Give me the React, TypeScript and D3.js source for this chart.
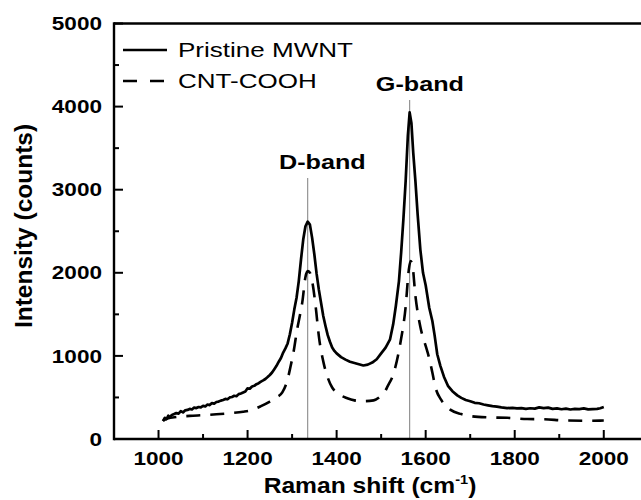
import React from "react";
import * as d3 from "d3";

// ---- data ----
const pristineShift = [
  1010, 1014, 1018, 1022, 1026, 1030, 1035, 1040, 1045, 1050, 1055, 1060, 1065, 1070, 1075, 1080, 1085, 1090, 1095, 1100,
  1105, 1110, 1115, 1120, 1125, 1130, 1135, 1140, 1145, 1150, 1155, 1160, 1165, 1170, 1175, 1180, 1185, 1190, 1195, 1200,
  1205, 1210, 1215, 1220, 1225, 1230, 1235, 1240, 1245, 1250, 1255, 1260, 1265, 1270, 1275, 1280, 1285, 1290, 1295, 1300,
  1305, 1310, 1315, 1320, 1325, 1330, 1335, 1340, 1345, 1350, 1355, 1360, 1365, 1370, 1375, 1380, 1385, 1390, 1395, 1400,
  1410, 1420, 1430, 1440, 1450, 1460, 1470, 1480, 1490, 1500, 1510, 1520, 1527, 1533, 1540, 1545, 1550, 1555, 1560, 1564,
  1568, 1572, 1577, 1582, 1588, 1594, 1600, 1608, 1615, 1620, 1626, 1633, 1641, 1650, 1660, 1671, 1680, 1690, 1700, 1710,
  1720, 1730, 1740, 1750, 1760, 1770, 1783, 1795, 1805, 1815, 1825, 1835, 1845, 1855, 1865, 1875, 1885, 1895, 1905, 1915,
  1925, 1935, 1945, 1955, 1965, 1975, 1985, 1992, 2000,
];
const pristineCounts = [
  215, 255, 240, 280, 262, 290, 300, 312, 305, 335, 320, 345, 350, 362, 355, 378, 372, 385, 380, 398,
  392, 415, 408, 432, 425, 445, 450, 462, 470, 482, 478, 500, 505, 520, 515, 540, 548, 560, 572, 610,
  605, 632, 640, 660, 672, 690, 705, 722, 745, 770, 800, 840, 880, 930, 975, 1040, 1090, 1150, 1260, 1400,
  1560, 1700, 1900, 2160, 2400, 2560, 2615, 2580, 2420, 2220, 1990, 1800, 1640, 1480, 1360, 1250, 1170, 1100, 1060, 1030,
  985, 955, 930, 915, 900, 885, 895, 920, 960, 1030, 1100, 1200, 1380, 1600, 1900, 2250, 2650, 3100, 3650, 3930,
  3800, 3450, 3100, 2700, 2280, 2000, 1850, 1580, 1420, 1250, 1020, 880, 750, 640, 575, 525, 495, 470, 455, 435,
  430, 415, 405, 395, 390, 380, 372, 375, 368, 372, 362, 370, 365, 380, 372, 378, 362, 368, 358, 366,
  355, 362, 360, 368, 356, 360, 362, 370, 385,
];

const cooShift = [
  1010, 1020, 1040, 1070, 1100, 1130, 1160, 1190, 1210, 1230, 1250, 1265, 1278, 1290, 1296, 1304, 1311, 1318, 1323, 1330,
  1335, 1340, 1345, 1353, 1360, 1371, 1380, 1390, 1400, 1424, 1440, 1461, 1483, 1500, 1506, 1515, 1528, 1543, 1555, 1562,
  1566, 1570, 1577, 1588, 1600, 1607, 1615, 1622, 1635, 1656, 1680, 1701, 1740, 1783, 1828, 1865, 1918, 1970, 2000,
];
const cooCounts = [
  220, 245, 265, 278, 287, 297, 310, 328, 350, 395, 450, 500, 560, 720, 860, 1070, 1310, 1500, 1650, 1950,
  2020, 2000, 1900, 1590, 1240, 910, 740, 620, 560, 490, 465, 455, 465, 520, 550, 640, 790, 1150, 1590, 2030,
  2140, 2100, 1720, 1350, 1120, 990, 800, 620, 470, 350, 300, 275, 260, 255, 240, 237, 222, 220, 222,
];

const xTicks = [1000, 1200, 1400, 1600, 1800, 2000];
const xMinor = [900, 1100, 1300, 1500, 1700, 1900, 2100];
const yTicks = [0, 1000, 2000, 3000, 4000, 5000];
const yMinor = [500, 1500, 2500, 3500, 4500];
const seriesNames = ["Pristine MWNT", "CNT-COOH"];
const bands = [
  { name: "D-band", pos: 1335, top: 3140, labelX: 1368, labelY: 3250 },
  { name: "G-band", pos: 1564, top: 4080, labelX: 1587, labelY: 4190 },
];

const W = 641;
const H = 500;
const FONT = "'Liberation Sans', Arial, Helvetica, sans-serif";

function T(props: any) {
  const { x, y, sx = 1, anchor = "start", size, weight = "bold", children, ...rest } = props;
  return (
    <text
      transform={`translate(${x},${y}) scale(${sx},1)`}
      textAnchor={anchor}
      fontSize={size}
      fontWeight={weight}
      fontFamily={FONT}
      fill="#000"
      {...rest}
    >
      {children}
    </text>
  );
}

export default function App() {
  const x = d3.scaleLinear().domain([900, 2100]).range([114, 648.3]);
  const y = d3.scaleLinear().domain([0, 5000]).range([439, 23.5]);

  const pristine = pristineShift.map((s, i) => [s, pristineCounts[i]] as [number, number]);
  const coo = cooShift.map((s, i) => [s, cooCounts[i]] as [number, number]);

  const lineLin = d3
    .line<[number, number]>()
    .x((d) => x(d[0]))
    .y((d) => y(d[1]));
  const lineSmooth = d3
    .line<[number, number]>()
    .x((d) => x(d[0]))
    .y((d) => y(d[1]))
    .curve(d3.curveMonotoneX);

  const x0 = x(900);
  const y0 = y(0);
  const yTop = y(5000);

  return (
    <svg
      width={W}
      height={H}
      style={{ position: "absolute", left: 0, top: 0, display: "block", background: "#fff" }}
    >
      <rect x={0} y={0} width={W} height={H} fill="#fff" />

      {/* band marker lines */}
      {bands.map((b) => (
        <line
          key={b.name}
          x1={x(b.pos)}
          x2={x(b.pos)}
          y1={y(b.top)}
          y2={y0}
          stroke="#8a8a8a"
          strokeWidth={1.1}
        />
      ))}

      {/* curves */}
      <path d={lineSmooth(coo) || ""} fill="none" stroke="#000" strokeWidth={2.6} strokeDasharray="14 10" />
      <path d={lineLin(pristine) || ""} fill="none" stroke="#000" strokeWidth={2.7} strokeLinejoin="round" />

      {/* axes frame */}
      <line x1={x0} x2={W + 10} y1={yTop} y2={yTop} stroke="#000" strokeWidth={2.4} />
      <line x1={x0} x2={W + 10} y1={y0} y2={y0} stroke="#000" strokeWidth={2.4} />
      <line x1={x0} x2={x0} y1={yTop - 1.2} y2={y0 + 1.2} stroke="#000" strokeWidth={2.4} />

      {/* x ticks */}
      {xTicks.map((t) => (
        <line key={"xt" + t} x1={x(t)} x2={x(t)} y1={y0} y2={y0 - 9} stroke="#000" strokeWidth={2} />
      ))}
      {xMinor.map((t) => (
        <line key={"xm" + t} x1={x(t)} x2={x(t)} y1={y0} y2={y0 - 5} stroke="#000" strokeWidth={2} />
      ))}
      {xTicks.map((t) => (
        <T key={"xl" + t} x={x(t)} y={465} sx={1.22} anchor="middle" size={18.5}>
          {t}
        </T>
      ))}

      {/* y ticks */}
      {yTicks.map((t) => (
        <line key={"yt" + t} x1={x0} x2={x0 + 9} y1={y(t)} y2={y(t)} stroke="#000" strokeWidth={2} />
      ))}
      {yMinor.map((t) => (
        <line key={"ym" + t} x1={x0} x2={x0 + 5} y1={y(t)} y2={y(t)} stroke="#000" strokeWidth={2} />
      ))}
      {yTicks.map((t) => (
        <T key={"yl" + t} x={102} y={y(t) + 6.6} sx={1.22} anchor="end" size={18.5}>
          {t}
        </T>
      ))}

      {/* axis titles */}
      <T x={370} y={493} sx={1.12} anchor="middle" size={22}>
        <tspan>Raman shift </tspan>
        <tspan>(cm</tspan>
        <tspan fontSize={13} dy={-9}>-1</tspan>
        <tspan dy={9}>)</tspan>
      </T>
      <text
        transform={`translate(31.5,226) rotate(-90)`}
        textAnchor="middle"
        fontSize={24.5}
        fontWeight="bold"
        fontFamily={FONT}
        fill="#000"
      >
        Intensity (counts)
      </text>

      {/* band labels */}
      {bands.map((b) => (
        <T key={"bl" + b.name} x={x(b.labelX)} y={y(b.labelY)} sx={1.26} anchor="middle" size={20}>
          {b.name}
        </T>
      ))}

      {/* legend */}
      <line x1={123} x2={167} y1={50} y2={50} stroke="#000" strokeWidth={2.6} />
      <T x={178} y={57} sx={1.24} size={21} weight="normal">
        {seriesNames[0]}
      </T>
      <line x1={123} x2={167} y1={81} y2={81} stroke="#000" strokeWidth={2.6} strokeDasharray="14 13" />
      <T x={178} y={88} sx={1.24} size={21} weight="normal">
        {seriesNames[1]}
      </T>
    </svg>
  );
}
